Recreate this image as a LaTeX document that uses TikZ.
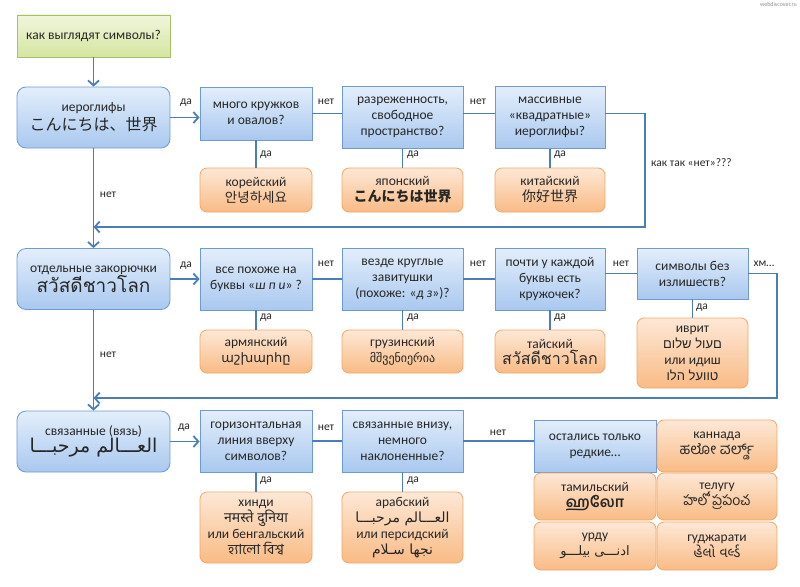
\documentclass[tikz,border=0pt]{standalone}
\usepackage{fontspec}
\setmainfont{Carlito}
\newfontfamily\jpfont{Noto Sans CJK JP}
\newfontfamily\scfont{Noto Sans CJK SC}
\newfontfamily\krfont{Noto Sans CJK KR}
\newfontfamily\thaifont[Script=Thai]{Loma}
\newfontfamily\armfont{DejaVu Sans}
\newfontfamily\geofont{DejaVu Sans}
\newfontfamily\hebfont[Script=Hebrew]{Liberation Sans}
\newfontfamily\arabicfont[Script=Arabic]{DejaVu Sans}
\newfontfamily\devfont[Script=Devanagari]{Noto Sans}
\newfontfamily\bengfont[Script=Bengali]{Hind Siliguri}
\newfontfamily\tamilfont[Script=Tamil]{Hind Madurai}
\newfontfamily\telfont[Script=Telugu]{Hind Guntur}
\newfontfamily\kanfont[Script=Kannada]{Hind Mysuru}
\newfontfamily\gujfont[Script=Gujarati]{Noto Sans Gujarati UI}
\TeXXeTstate=1
\usetikzlibrary{arrows.meta}
\definecolor{cLine}{HTML}{4A7EBB}
\definecolor{cQTop}{HTML}{E3EEFB}
\definecolor{cQBot}{HTML}{A9C8EF}
\definecolor{cQDraw}{HTML}{6E9AD2}
\definecolor{cAnsTop}{HTML}{FDE8D6}
\definecolor{cAnsBot}{HTML}{F9BB85}
\definecolor{cAnsDraw}{HTML}{F2A766}
\definecolor{cGoTop}{HTML}{F0F6DC}
\definecolor{cGoBot}{HTML}{D5E5A0}
\definecolor{cGoDraw}{HTML}{A4C264}
\tikzset{
  rnode/.style={draw, align=center, inner sep=2pt, line width=0.8pt,
    font=\fontsize{13.5}{16}\selectfont, text=black!85},
  startbox/.style={rnode, draw=cGoDraw, top color=cGoTop, bottom color=cGoBot,
    minimum width=153pt, minimum height=42pt},
  groupbox/.style={rnode, draw=cQDraw, top color=cQTop, bottom color=cQBot,
    rounded corners=9pt, minimum width=153pt, minimum height=61pt},
  askbox/.style={rnode, draw=cQDraw, top color=cQTop, bottom color=cQBot,
    minimum height=62pt},
  ansbox/.style={rnode, draw=cAnsDraw, top color=cAnsTop, bottom color=cAnsBot,
    rounded corners=7pt},
  flow/.style={-{Straight Barb[length=5pt,width=11pt]}, draw=cLine, line width=1.8pt},
  link/.style={draw=cLine, line width=1.8pt},
  tag/.style={font=\fontsize{11.5}{13}\selectfont, inner sep=1pt, text=black!85},
}

\begin{document}
\begin{tikzpicture}[x=1pt, y=-1pt]
    \useasboundingbox (0,0) rectangle (800,586);
    % row 1: hieroglyphs
    \node[startbox] (ask)    at (93.5,36)    {как выглядят символы?};
    \node[groupbox] (hier)   at (93.5,117.5) {иероглифы\\[3pt]{\jpfont\fontsize{16}{18}\selectfont こんにちは、世界}};
    \node[askbox, minimum width=112pt, minimum height=53pt] (circ) at (256,113.5) {много кружков\\и овалов?};
    \node[askbox, minimum width=121pt] (sparse) at (402.5,117.5) {разреженность,\\свободное\\пространство?};
    \node[askbox, minimum width=110pt] (square) at (550,117.5) {массивные\\«квадратные»\\иероглифы?};
    \node[ansbox, minimum width=112pt, minimum height=44pt] (kor) at (256,190)   {корейский\\{\krfont\fontsize{13.5}{15}\selectfont 안녕하세요}};
    \node[ansbox, minimum width=121pt, minimum height=44pt] (jap) at (402.5,190) {японский\\{\jpfont\fontsize{14}{15}\selectfont\bfseries こんにちは世界}};
    \node[ansbox, minimum width=110pt, minimum height=44pt] (chn) at (550,190)   {китайский\\{\scfont\fontsize{14}{15}\selectfont 你好世界}};
    % row 2: separate squiggles
    \node[groupbox] (apart)  at (93.5,279) {отдельные закорючки\\{\thaifont\fontsize{19}{20}\selectfont สวัสดีชาวโลก}};
    \node[askbox, minimum width=112pt] (armq) at (256,279)   {все похоже на\\буквы «\textit{ш п и}» ?};
    \node[askbox, minimum width=121pt] (geoq) at (402.5,279) {везде круглые\\завитушки\\(похоже: «\textit{д з}»)?};
    \node[askbox, minimum width=110pt] (thaq) at (550,279)   {почти у каждой\\буквы есть\\кружочек?};
    \node[askbox, minimum width=111pt, minimum height=51pt] (hebq) at (692.5,273.5) {символы без\\излишеств?};
    \node[ansbox, minimum width=112pt, minimum height=43pt] (arm) at (256,351.5)   {армянский\\{\armfont\fontsize{13}{15}\selectfont աշխարհը}};
    \node[ansbox, minimum width=121pt, minimum height=43pt] (geo) at (402.5,351.5) {грузинский\\{\geofont\fontsize{12}{15}\selectfont მშვენიერია}};
    \node[ansbox, minimum width=110pt, minimum height=43pt] (tha) at (550,351.5)   {тайский\\{\thaifont\fontsize{16}{15}\selectfont สวัสดีชาวโลก}};
    \node[ansbox, minimum width=111pt, minimum height=70pt] (heb) at (692.5,353)   {иврит\\{\hebfont\fontsize{13}{15}\selectfont\beginR םעול שלום\endR}\\или идиш\\{\hebfont\fontsize{13}{15}\selectfont\beginR טוועל הלו\endR}};
    % row 3: joined script
    \node[groupbox] (joined) at (93.5,441.5) {связанные (вязь)\\{\arabicfont\fontsize{19}{20}\selectfont\beginR العـــالم مرحبـــا\endR}};
    \node[askbox, minimum width=112pt] (devq) at (256,441)   {горизонтальная\\линия вверху\\символов?};
    \node[askbox, minimum width=121pt] (arbq) at (402.5,441) {связанные внизу,\\немного\\наклоненные?};
    \node[askbox, minimum width=122pt, minimum height=52pt] (rare) at (595,446) {остались только\\редкие…};
    \node[ansbox, minimum width=112pt, minimum height=71pt] (hin) at (256,527.5)   {хинди\\{\devfont\fontsize{14}{15}\selectfont नमस्ते दुनिया}\\или бенгальский\\{\bengfont\fontsize{14}{15}\selectfont হ্যালো বিশ্ব}};
    \node[ansbox, minimum width=121pt, minimum height=71pt] (arb) at (402.5,527.5) {арабский\\{\arabicfont\fontsize{14}{15}\selectfont\beginR العـــالم مرحبـــا\endR}\\или персидский\\{\arabicfont\fontsize{14}{15}\selectfont\beginR نجها سـلام\endR}};
    \node[ansbox, minimum width=120pt, minimum height=52pt] (kan) at (717,446)   {каннада\\{\kanfont\fontsize{15}{15}\selectfont ಹಲೋ ವರ್ಲ್ಡ್}};
    \node[ansbox, minimum width=122pt, minimum height=47pt] (tam) at (595,496.5) {тамильский\\{\tamilfont\fontsize{15}{15}\selectfont\bfseries ஹலோ}};
    \node[ansbox, minimum width=120pt, minimum height=47pt] (tel) at (717,496.5) {телугу\\{\telfont\fontsize{14}{15}\selectfont హలో ప్రపంచ}};
    \node[ansbox, minimum width=122pt, minimum height=48pt] (urd) at (595,546)   {урду\\{\arabicfont\fontsize{13}{15}\selectfont\beginR ادنـــی بیلـــو\endR}};
    \node[ansbox, minimum width=120pt, minimum height=48pt] (guj) at (717,546)   {гуджарати\\{\gujfont\fontsize{14}{15}\selectfont હેલો વર્લ્ડ}};
    % turning points of the two loops back
    \coordinate (turnA) at (645,113.5);
    \coordinate (joinA) at (93.5,227);
    \coordinate (turnB) at (777,273.5);
    \coordinate (joinB) at (93.5,398);
    % connectors
    \draw[flow] (ask) -- (hier);
    \draw[flow] (hier.east) -- (hier.east -| circ.west);
    \draw[link] (circ.east) -- (circ.east -| sparse.west);
    \draw[link] (sparse.east |- circ.east) -- (square.west |- circ.east);
    \draw[flow] (square.east |- circ.east) -- (turnA) |- (joinA);
    \draw[link] (circ) -- (kor);
    \draw[link] (sparse) -- (jap);
    \draw[link] (square) -- (chn);
    \draw[flow] (hier) -- (apart);
    \draw[flow] (apart.east) -- (apart.east -| armq.west);
    \draw[link] (armq.east) -- (geoq.west);
    \draw[link] (geoq.east) -- (thaq.west);
    \draw[link] (thaq.east |- hebq.west) -- (hebq.west);
    \draw[flow] (hebq.east) -- (turnB) |- (joinB);
    \draw[link] (armq) -- (arm);
    \draw[link] (geoq) -- (geo);
    \draw[link] (thaq) -- (tha);
    \draw[link] (hebq) -- (heb);
    \draw[flow] (apart) -- (joined);
    \draw[flow] (joined.east) -- (joined.east -| devq.west);
    \draw[link] (devq.east) -- (arbq.west);
    \draw[link] (arbq.east) -- (arbq.east -| rare.west);
    \draw[link] (devq) -- (hin);
    \draw[link] (arbq) -- (arb);
    % yes / no labels
    \node[tag] (yesA)  at (186,103) {да};
    \node[tag] (noA)   at (326,102) {нет};
    \node[tag] (noB)   at (478,102) {нет};
    \node[tag] (yesA1) at (266,155) {да};
    \node[tag] (yesA2) at (413,155) {да};
    \node[tag] (yesA3) at (560,155) {да};
    \node[tag, anchor=west] (why) at (650,163) {как так «нет»???};
    \node[tag] (noDownA) at (108,195) {нет};
    \node[tag] (yesB)  at (186,266) {да};
    \node[tag] (noC)   at (326,264) {нет};
    \node[tag] (noD)   at (478,264) {нет};
    \node[tag] (noE)   at (621,264) {нет};
    \node[tag] (hmm)   at (764,264) {хм…};
    \node[tag] (yesB1) at (266,318) {да};
    \node[tag] (yesB2) at (413,318) {да};
    \node[tag] (yesB3) at (560,318) {да};
    \node[tag] (yesB4) at (702,308) {да};
    \node[tag] (noDownB) at (108,355) {нет};
    \node[tag] (yesC)  at (184,428) {да};
    \node[tag] (noF)   at (326,428) {нет};
    \node[tag] (noG)   at (498,433) {нет};
    \node[tag] (yesC1) at (266,481) {да};
    \node[tag] (yesC2) at (413,481) {да};
    \node[font=\fontsize{6}{7}\selectfont, text=black!45, anchor=north east, inner sep=1pt] (mark) at (798,1) {webdiscover.ru};
\end{tikzpicture}
\end{document}
